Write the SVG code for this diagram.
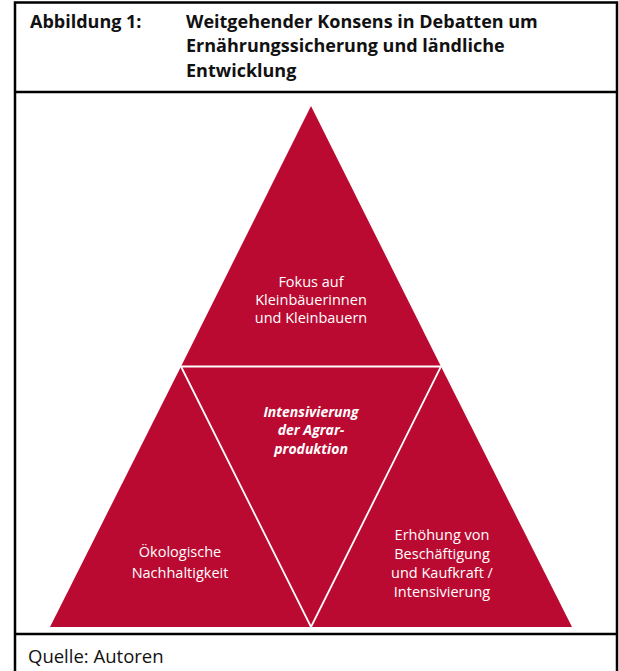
<svg xmlns="http://www.w3.org/2000/svg" width="619" height="671" viewBox="0 0 619 671">
<style>
.frame{fill:none;stroke:#000;stroke-width:2.5}
.seg{fill:#bb0a31}
.sep{stroke:#fff;stroke-width:1.8;fill:none}
.hd{font-family:"Open Sans","Liberation Sans",sans-serif;font-weight:bold;font-size:18px;fill:#111}
.lbl{font-family:"Open Sans","Liberation Sans",sans-serif;font-size:14.5px;fill:#fff;text-anchor:middle}
.ctr{font-family:"Open Sans","Liberation Sans",sans-serif;font-size:14px;font-weight:bold;font-style:italic;fill:#fff;text-anchor:middle}
.src{font-family:"Open Sans","Liberation Sans",sans-serif;font-size:18.5px;fill:#111}
</style>
<rect x="0" y="0" width="619" height="671" fill="#fff"/>
<g id="frame">
<path class="frame" d="M15,673 V2.5 H617 V673"/>
<line class="frame" x1="15" y1="92" x2="617" y2="92"/>
<line class="frame" x1="15" y1="634" x2="617" y2="634"/>
</g>
<g id="title">
<text class="hd" x="30" y="28">Abbildung 1:</text>
<text class="hd" x="186" y="28">Weitgehender Konsens in Debatten um</text>
<text class="hd" x="186" y="52">Ernährungssicherung und ländliche</text>
<text class="hd" x="186" y="77">Entwicklung</text>
</g>
<g id="top">
<polygon class="seg" points="311,106 441,366.5 181,366.5"/>
<text class="lbl" x="311" y="287">Fokus auf</text>
<text class="lbl" x="311" y="305">Kleinbäuerinnen</text>
<text class="lbl" x="311" y="323">und Kleinbauern</text>
</g>
<g id="left">
<polygon class="seg" points="181,366.5 311,627 50,627"/>
<text class="lbl" x="180" y="557">Ökologische</text>
<text class="lbl" x="180" y="578">Nachhaltigkeit</text>
</g>
<g id="right">
<polygon class="seg" points="441,366.5 572,627 311,627"/>
<text class="lbl" x="442" y="540">Erhöhung von</text>
<text class="lbl" x="442" y="559">Beschäftigung</text>
<text class="lbl" x="442" y="578">und Kaufkraft /</text>
<text class="lbl" x="442" y="597">Intensivierung</text>
</g>
<g id="center">
<polygon class="seg" points="181,366.5 441,366.5 311,627"/>
<text class="ctr" x="311" y="417">Intensivierung</text>
<text class="ctr" x="311" y="435">der Agrar-</text>
<text class="ctr" x="311" y="454">produktion</text>
</g>
<g id="connectors">
<polyline class="sep" points="181,366.5 441,366.5 311,627 181,366.5"/>
</g>
<g id="source">
<text class="src" x="28" y="663">Quelle: Autoren</text>
</g>
</svg>
